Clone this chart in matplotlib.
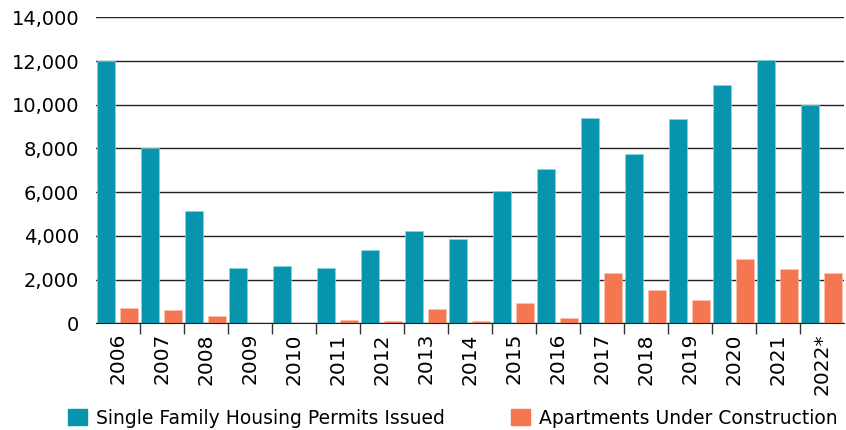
import matplotlib.pyplot as plt
from matplotlib.ticker import FuncFormatter, FixedLocator
from matplotlib.patches import Patch
import numpy as np

years = ["2006", "2007", "2008", "2009", "2010", "2011", "2012", "2013", "2014",
         "2015", "2016", "2017", "2018", "2019", "2020", "2021", "2022*"]
single_family = [12000, 8000, 5150, 2530, 2640, 2530, 3370, 4240, 3870,
                 6050, 7060, 9390, 7760, 9350, 10920, 12050, 9970]
apartments = [690, 610, 330, 20, 20, 150, 120, 650, 100,
              910, 260, 2290, 1520, 1080, 2950, 2480, 2310]

teal = "#0795AE"
orange = "#F47752"

plt.rcParams['font.family'] = ['DejaVu Sans']

fig = plt.figure(figsize=(8.46, 4.30), dpi=100)
ax = fig.add_axes([96 / 846, 1 - 323.3 / 430, 748 / 846, 306 / 430])

x = np.arange(len(years))
w = 0.41
ax.bar(x - 0.27, single_family, width=w, color=teal, edgecolor="#8fd3df", linewidth=0.5, zorder=3)
ax.bar(x + 0.24, apartments, width=w, color=orange, edgecolor="#fbc3b0", linewidth=0.5, zorder=3)

ax.set_xlim(-0.5, len(years) - 0.5)
ax.set_ylim(0, 14000)
ax.set_yticks(range(0, 14001, 2000))
ax.yaxis.set_major_formatter(FuncFormatter(lambda v, p: f"{int(v):,}"))
ax.grid(axis="y", color="#222222", linewidth=1, zorder=0)

ax.set_xticks(x)
ax.set_xticklabels(years, rotation=90, fontsize=14.5)
ax.xaxis.set_minor_locator(FixedLocator(np.arange(0.5, len(years) - 1, 1)))
ax.tick_params(axis="x", which="major", length=0, pad=7)
ax.tick_params(axis="x", which="minor", length=8, width=1, color="#333333")
ax.tick_params(axis="y", length=0, pad=12, labelsize=14)

for s in ["top", "right", "left"]:
    ax.spines[s].set_visible(False)
ax.spines["bottom"].set_color("#222222")
ax.spines["bottom"].set_zorder(4)

handles = [Patch(color=teal, label="Single Family Housing Permits Issued"),
           Patch(color=orange, label="Apartments Under Construction")]
fig.legend(handles=handles, loc="center", bbox_to_anchor=(453 / 846, 1 - 418 / 430),
           ncol=2, frameon=False, fontsize=13.5, handlelength=1.0, handleheight=1.0,
           handletextpad=0.5, columnspacing=3.5, borderaxespad=0)

fig.savefig("out.png", dpi=100)
